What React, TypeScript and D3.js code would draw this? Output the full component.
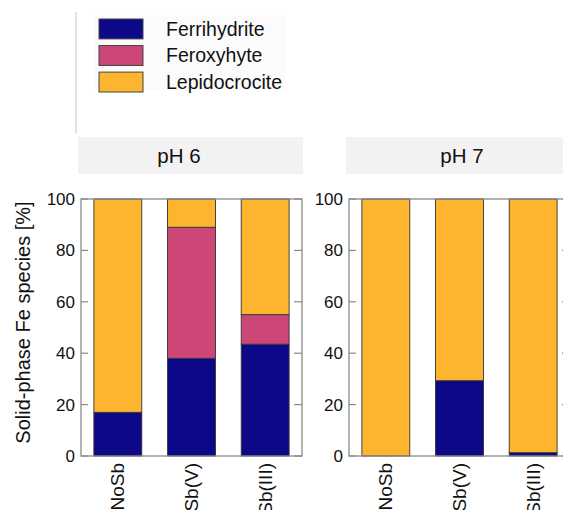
import React from 'react';
import * as d3 from 'd3';

const categories = ['NoSb', 'Sb(V)', 'Sb(III)'];
const panels = ['pH 6', 'pH 7'];
const species = ['Ferrihydrite', 'Feroxyhyte', 'Lepidocrocite'];
const colors = ['#0d0887', '#cc4778', '#fdb42f'];

// percent per category, one array per species and panel
const ferrihydritePH6 = [17, 38, 43.5];
const feroxyhytePH6 = [0, 51, 11.5];
const lepidocrocitePH6 = [83, 11, 45];
const ferrihydritePH7 = [0, 29.3, 1.3];
const feroxyhytePH7 = [0, 0, 0];
const lepidocrocitePH7 = [100, 70.7, 98.7];

const yTicks = [0, 20, 40, 60, 80, 100];

const W = 563;
const H = 510;
const panelLeft = [81, 349];
const panelW = 221;
const top = 199;
const bottom = 456;
const stripLabelOffset = [101, 116];
const font = 'Liberation Sans, Arial, sans-serif';

const App = () => {
  const y = d3.scaleLinear().domain([0, 100]).range([bottom, top]);
  const panelData = [
    [ferrihydritePH6, feroxyhytePH6, lepidocrocitePH6],
    [ferrihydritePH7, feroxyhytePH7, lepidocrocitePH7],
  ];

  const legendY = d3.scaleBand().domain(species).range([19, 92]).paddingInner(0.25);

  return (
    <svg width={W} height={H} style={{ position: 'absolute', left: 0, top: 0 }} fontFamily={font}>
      <rect width={W} height={H} fill="#fff" />

      {/* legend */}
      <line x1={76} x2={76} y1={12} y2={133} stroke="#c4c4c4" strokeWidth={1} />
      <rect x={95} y={15} width={190} height={75} fill="#fbfbfb" />
      {species.map((s, i) => (
        <g key={s}>
          <rect x={99} y={legendY(s)} width={44} height={legendY.bandwidth()}
            fill={colors[i]} stroke="#444" strokeWidth={1} />
          <text x={166} y={legendY(s)! + legendY.bandwidth() / 2} dy="0.35em"
            fontSize={19.5} fill="#111">{s}</text>
        </g>
      ))}

      {/* y axis title */}
      <text transform={`translate(23,${(top + bottom) / 2 - 5}) rotate(-90)`} textAnchor="middle"
        dy="0.35em" fontSize={20} fill="#111">Solid-phase Fe species [%]</text>

      {panels.map((p, pi) => {
        const left = panelLeft[pi];
        const x = d3.scaleBand().domain(categories).range([left, left + panelW])
          .paddingInner(0.35).paddingOuter(0.175);
        const rows = categories.map((c, ci) => ({ c, v: panelData[pi].map(arr => arr[ci]) }));
        const series = d3.stack<{ c: string; v: number[] }, number>()
          .keys([0, 1, 2])
          .value((d, k) => d.v[k])(rows);
        return (
          <g key={p}>
            <rect x={left - 3} y={137} width={panelW + 4} height={37} fill="#f2f2f2" />
            <text x={left - 3 + stripLabelOffset[pi]} y={155.5} dy="0.35em" textAnchor="middle"
              fontSize={20.5} fill="#111">{p}</text>

            {series.map((s, si) => s.map(d => d[1] > d[0] ? (
              <rect key={`${si}-${d.data.c}`} x={x(d.data.c)} y={y(d[1])} width={x.bandwidth()}
                height={y(d[0]) - y(d[1])} fill={colors[si]} stroke="#333" strokeWidth={0.9} />
            ) : null))}

            <rect x={left} y={top} width={panelW} height={bottom - top} fill="none"
              stroke="#8a8a8a" strokeWidth={1.3} />
            {yTicks.map(t => (
              <g key={t}>
                <line x1={left} x2={left + 7} y1={y(t)} y2={y(t)} stroke="#8a8a8a" strokeWidth={1.2} />
                <line x1={left + panelW - 8} x2={left + panelW} y1={y(t)} y2={y(t)} stroke="#8a8a8a" strokeWidth={1.2} />
                <text x={left - 6} y={y(t)} dy="0.35em" textAnchor="end" fontSize={17} fill="#111">{t}</text>
              </g>
            ))}
            {categories.map(c => (
              <text key={c} transform={`translate(${x(c)! + x.bandwidth() / 2},463) rotate(-90)`}
                textAnchor="end" dy="0.35em" fontSize={19} fill="#111">{c}</text>
            ))}
          </g>
        );
      })}
    </svg>
  );
};

export default App;
